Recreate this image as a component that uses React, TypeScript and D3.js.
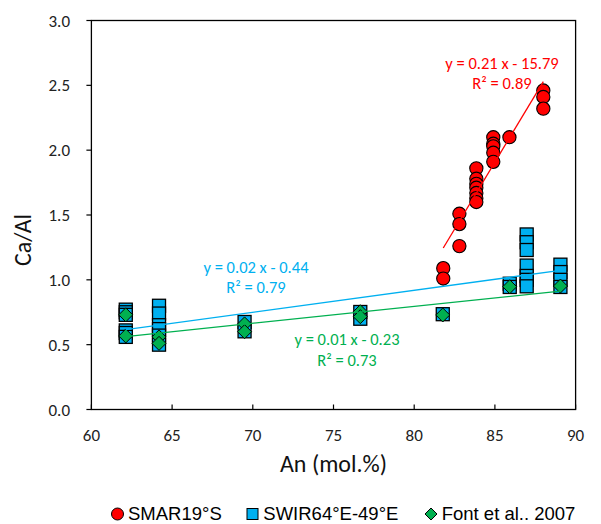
import React from "react";
import * as d3 from "d3";

// ---- data ----
const smarAn = [81.8, 81.8, 82.8, 82.8, 82.8, 83.85, 83.85, 83.85, 83.85, 83.85, 83.85, 83.85, 84.9, 84.9, 84.9, 84.9, 84.9, 85.9, 88.0, 88.0, 88.0];
const smarCaAl = [1.09, 1.01, 1.51, 1.43, 1.26, 1.86, 1.78, 1.74, 1.71, 1.67, 1.63, 1.6, 2.1, 2.05, 2.03, 1.98, 1.91, 2.1, 2.46, 2.41, 2.32];

const swirAn = [62.13, 62.13, 62.13, 62.13, 62.13, 62.13, 64.19, 64.19, 64.19, 64.19, 64.19, 64.19, 69.49, 69.49, 76.66, 76.66, 81.77, 85.92, 85.92, 86.97, 86.97, 86.97, 86.97, 86.97, 86.97, 86.97, 89.06, 89.06, 89.06, 89.06];
const swirCaAl = [0.77, 0.75, 0.73, 0.61, 0.59, 0.56, 0.8, 0.74, 0.65, 0.62, 0.57, 0.5, 0.675, 0.603, 0.752, 0.7, 0.735, 0.97, 0.945, 1.35, 1.29, 1.23, 1.11, 1.03, 1.0, 0.95, 1.117, 1.06, 1.0, 0.945];

const fontAn = [62.13, 62.13, 64.19, 64.19, 69.49, 69.49, 76.66, 76.66, 81.77, 85.92, 89.06];
const fontCaAl = [0.73, 0.567, 0.56, 0.51, 0.66, 0.6, 0.754, 0.716, 0.729, 0.947, 0.952];

const xTicks = [60, 65, 70, 75, 80, 85, 90];
const yTicks = [0, 0.5, 1.0, 1.5, 2.0, 2.5, 3.0];

const seriesNames = ["SMAR19°S", "SWIR64°E-49°E", "Font et al.. 2007"];
const eqLabels = ["y = 0.21 x - 15.79", "y = 0.02 x - 0.44", "y = 0.01 x - 0.23"];
const r2Labels = ["R² = 0.89", "R² = 0.79", "R² = 0.73"];

const RED = "#FF0000";
const BLUE = "#00B0F0";
const GREEN = "#00B050";

const W = 601;
const H = 524;
const L = 91.4, R = 575.6, T = 20.5, B = 409.5;

const x = d3.scaleLinear().domain([60, 90]).range([L, R]);
const y = d3.scaleLinear().domain([0, 3]).range([B, T]);

function fit(xs: number[], ys: number[]) {
  const mx = d3.mean(xs) as number;
  const my = d3.mean(ys) as number;
  let sxy = 0, sxx = 0;
  xs.forEach((v, i) => {
    sxy += (v - mx) * (ys[i] - my);
    sxx += (v - mx) * (v - mx);
  });
  const slope = sxy / sxx;
  const intercept = my - slope * mx;
  const x0 = d3.min(xs) as number;
  const x1 = d3.max(xs) as number;
  return [
    [x0, slope * x0 + intercept],
    [x1, slope * x1 + intercept],
  ] as [number, number][];
}

const lineGen = d3.line<[number, number]>().x((d) => x(d[0])).y((d) => y(d[1]));

const diamond = (cx: number, cy: number, h: number) =>
  `M${cx},${cy - h}L${cx + h},${cy}L${cx},${cy + h}L${cx - h},${cy}Z`;

const tickFont = "Calibri, Carlito, Lato, 'Open Sans', sans-serif";

export default function App() {
  const trends = [
    { pts: fit(smarAn, smarCaAl), color: RED },
    { pts: fit(swirAn, swirCaAl), color: BLUE },
    { pts: fit(fontAn, fontCaAl), color: GREEN },
  ];
  const eqPos = [
    { cx: 502, y1: 69, y2: 89, color: RED },
    { cx: 256, y1: 273, y2: 293, color: BLUE },
    { cx: 347, y1: 345, y2: 366, color: GREEN },
  ];
  return (
    <svg
      width={W}
      height={H}
      style={{ position: "absolute", left: 0, top: 0, background: "#fff" }}
    >
      <rect x={0} y={0} width={W} height={H} fill="#fff" />
      {/* plot frame */}
      <rect x={L} y={T} width={R - L} height={B - T} fill="none" stroke="#000" strokeWidth={1.3} />
      {/* x ticks (inside) */}
      {xTicks.map((t) => (
        <g key={"xt" + t}>
          <line x1={x(t)} x2={x(t)} y1={B} y2={B - 5} stroke="#000" strokeWidth={1.2} />
          <text x={x(t)} y={441} textAnchor="middle" fontFamily={tickFont} fontSize={17} fill="#222">
            {t}
          </text>
        </g>
      ))}
      {/* y ticks (outside) */}
      {yTicks.map((t) => (
        <g key={"yt" + t}>
          <line x1={L - 5} x2={L} y1={y(t)} y2={y(t)} stroke="#000" strokeWidth={1.2} />
          <text x={70} y={y(t) + 6} textAnchor="end" fontFamily={tickFont} fontSize={17} fill="#222">
            {t.toFixed(1)}
          </text>
        </g>
      ))}
      {/* axis titles */}
      <text x={(L + R) / 2} y={472} textAnchor="middle" fontFamily={tickFont} fontSize={24} fill="#111">
        An (mol.%)
      </text>
      <text
        transform={`translate(31,240) rotate(-90)`}
        textAnchor="middle"
        fontFamily={tickFont}
        fontSize={24}
        fill="#111"
      >
        Ca/Al
      </text>

      {/* SMAR circles */}
      {smarAn.map((a, i) => (
        <circle key={"s" + i} cx={x(a)} cy={y(smarCaAl[i])} r={6.6} fill={RED} stroke="#000" strokeWidth={1.1} />
      ))}
      {/* SWIR squares */}
      {swirAn.map((a, i) => (
        <rect
          key={"w" + i}
          x={x(a) - 6.5}
          y={y(swirCaAl[i]) - 6.5}
          width={13}
          height={13}
          fill={BLUE}
          stroke="#000"
          strokeWidth={1.3}
        />
      ))}
      {/* Font et al. diamonds */}
      {fontAn.map((a, i) => (
        <path key={"f" + i} d={diamond(x(a), y(fontCaAl[i]), 7)} fill={GREEN} stroke="#000" strokeWidth={1} />
      ))}

      {/* trendlines */}
      {trends.map((t, i) => (
        <path key={"tr" + i} d={lineGen(t.pts) || ""} fill="none" stroke={t.color} strokeWidth={1.3} />
      ))}

      {/* equation labels */}
      {eqPos.map((p, i) => (
        <g key={"eq" + i} fontFamily={tickFont} fontSize={16.5} fill={p.color} textAnchor="middle">
          <text x={p.cx} y={p.y1}>{eqLabels[i]}</text>
          <text x={p.cx} y={p.y2}>{r2Labels[i]}</text>
        </g>
      ))}

      {/* legend */}
      <g fontFamily="'Liberation Sans', Arial, sans-serif" fontSize={18.5} fill="#000">
        <circle cx={117.5} cy={514} r={6} fill={RED} stroke="#000" strokeWidth={1} />
        <text x={128} y={519.5}>{seriesNames[0]}</text>
        <rect x={247} y={508.5} width={11} height={11} fill={BLUE} stroke="#000" strokeWidth={1} />
        <text x={263.3} y={519.5}>{seriesNames[1]}</text>
        <path d={diamond(431, 514, 6)} fill={GREEN} stroke="#000" strokeWidth={1} />
        <text x={441.7} y={519.5}>{seriesNames[2]}</text>
      </g>
    </svg>
  );
}
